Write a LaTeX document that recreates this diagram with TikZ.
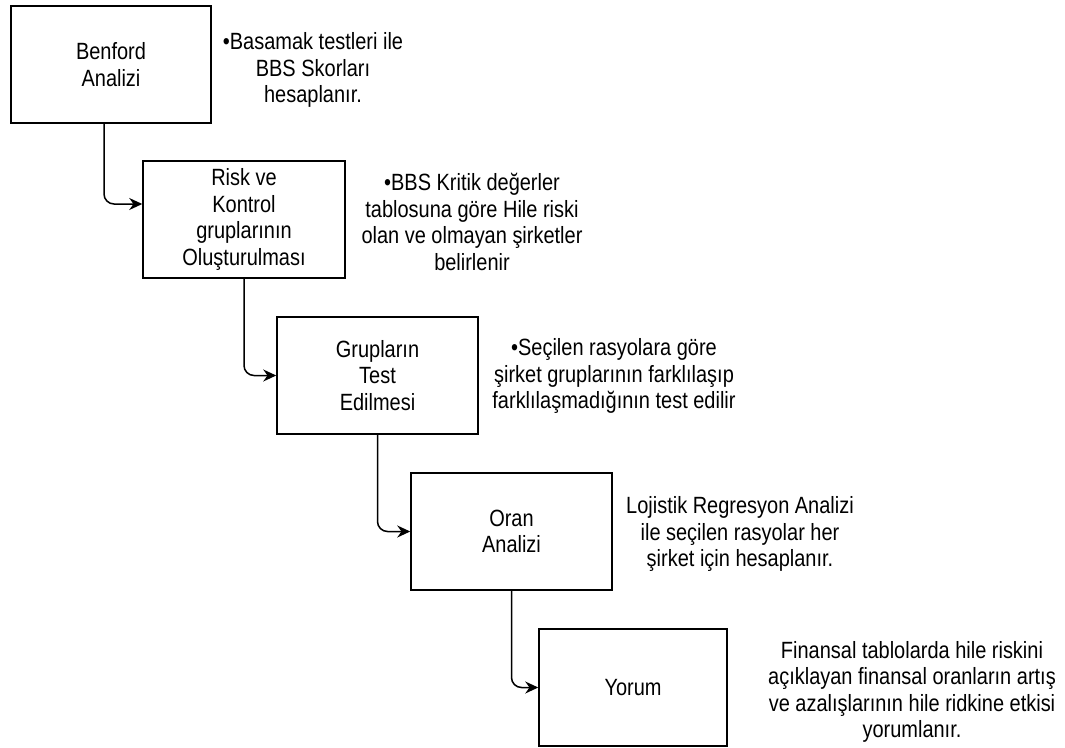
\documentclass[tikz,border=0pt]{standalone}
\usepackage{fontspec}
\setmainfont{Liberation Sans}[FakeStretch=0.85]
\usetikzlibrary{arrows.meta}
\begin{document}
\begin{tikzpicture}[x=1pt,y=-1pt]
\tikzset{
 box/.style={draw, line width=1.5pt, minimum height=117pt, inner sep=0pt, align=center, font=\fontsize{23.5}{26.5}\selectfont},
 note/.style={align=center, inner sep=0pt, font=\fontsize{23.5}{26.5}\selectfont},
 flow/.style={line width=1.5pt, rounded corners=10pt, -{Stealth[length=13pt,width=12pt]}}
}
\useasboundingbox (0,0) rectangle (1065,747);
\fill[white] (0,0) rectangle (1065,747);
\node[box, minimum width=200pt] (b1) at (111,64.5) {Benford\\Analizi};
\node[box, minimum width=202pt] (b2) at (244,219.5) {Risk ve\\Kontrol\\grupların{\i}n\\Oluşturulması};
\node[box, minimum width=201pt] (b3) at (377.5,375.5) {Grupların\\Test\\Edilmesi};
\node[box, minimum width=201pt] (b4) at (511.5,531.5) {Oran\\Analizi};
\node[box, minimum width=188pt] (b5) at (633,687.5) {Yorum};
\node[note] (t1) at (313,70) {•Basamak testleri ile\\BBS Skorları\\hesaplanır.};
\node[note] (t2) at (472,222) {•BBS Kritik değerler\\tablosuna göre Hile riski\\olan ve olmayan şirketler\\belirlenir};
\node[note] (t3) at (614,376) {•Seçilen rasyolara göre\\şirket gruplarının farklılaşıp\\farklılaşmadığının test edilir};
\node[note] (t4) at (740,534) {Lojistik Regresyon Analizi\\ile seçilen rasyolar her\\şirket için hesaplanır.};
\node[note] (t5) at (912,692) {Finansal tablolarda hile riskini\\açıklayan finansal oranların artış\\ve azalışlarının hile ridkine etkisi\\yorumlanır.};
\coordinate (s1) at ([xshift=-7pt]b1.south);
\coordinate (e1) at ([yshift=15.5pt]b2.west);
\draw[flow] (s1) |- (e1);
\draw[flow] (b2.south) |- (b3.west);
\draw[flow] (b3.south) |- (b4.west);
\draw[flow] (b4.south) |- (b5.west);
\end{tikzpicture}
\end{document}
